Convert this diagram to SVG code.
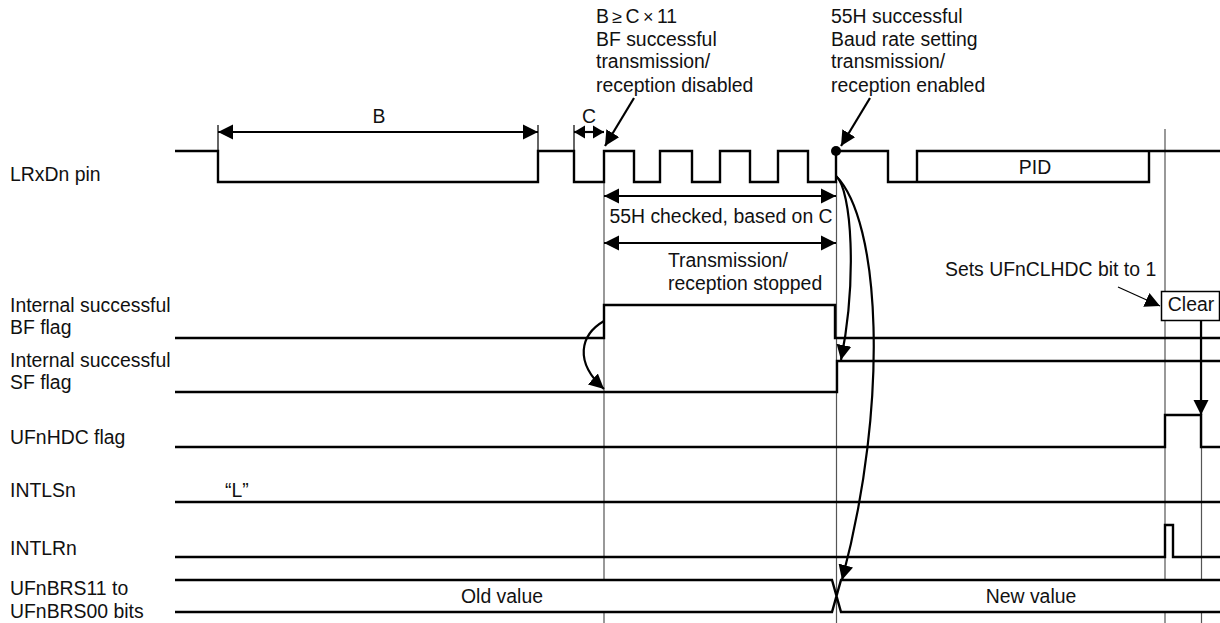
<svg xmlns="http://www.w3.org/2000/svg" width="1220" height="623" viewBox="0 0 1220 623">
<style>
text{font-family:"Liberation Sans",Arial,sans-serif;font-size:19.4px;fill:#111}
.m{text-anchor:middle}
.sym{font-size:18px}
.sig{fill:none;stroke:#000;stroke-width:2.4}
.guide{fill:none;stroke:#555;stroke-width:1.2}
.ar{fill:none;stroke:#000;stroke-width:2.2}
.thin{fill:none;stroke:#000;stroke-width:1.2}
</style>
<defs>
<marker id="a" markerUnits="userSpaceOnUse" markerWidth="16" markerHeight="16" refX="15" refY="8" orient="auto-start-reverse" viewBox="0 0 16 16"><path d="M0 0.5L15 8L0 15.5Z" fill="#000"/></marker>
<marker id="s" markerUnits="userSpaceOnUse" markerWidth="12" markerHeight="14" refX="11" refY="7" orient="auto-start-reverse" viewBox="0 0 12 14"><path d="M0 0.5L11 7L0 13.5Z" fill="#000"/></marker>
</defs>
<rect width="1220" height="623" fill="#fff"/>
<g id="guides">
<path class="guide" d="M604 182V580M604 612V623M836.500 182V623M1165 129V580M1165 612V623M1201.500 320V580M1201.500 612V623"/>
<path class="thin" d="M218 125V151M538 125V151M574 125V151"/>
</g>
<g id="signals">
<path class="sig" d="M175 151H218V182H538V151H574V182H604V151H634V182H660V151H692V182H720V151H750V182H778V151H808V182H836V151H888V182H917V151H1149V182H917M1149 151H1220"/>
<path class="sig" d="M175 338H604V305H835V338H1220"/>
<path class="sig" d="M175 392H837V361H1220"/>
<path class="sig" d="M175 447H1165V415H1201V447H1220"/>
<path class="sig" d="M175 502H1220"/>
<path class="sig" d="M175 557H1165V525H1173V557H1220"/>
<path class="sig" d="M175 580H832L841 612H1220M175 612H832L841 580H1220"/>
</g>
<g id="connectors">
<path class="ar" marker-start="url(#a)" marker-end="url(#a)" d="M218 132H538"/>
<path class="ar" marker-start="url(#s)" marker-end="url(#s)" d="M574 132H604"/>
<path class="ar" marker-end="url(#a)" d="M634 98L605 146"/>
<path class="ar" marker-end="url(#a)" d="M870 98L841 146"/>
<path class="ar" marker-start="url(#a)" marker-end="url(#a)" d="M604 196H836"/>
<path class="ar" marker-start="url(#a)" marker-end="url(#a)" d="M604 243H836"/>
<path class="ar" marker-end="url(#a)" d="M604 321C580 335 574 362 604 389"/>
<path class="ar" marker-end="url(#a)" d="M836 176C852 190 857 280 841 360"/>
<path class="ar" marker-end="url(#a)" d="M836 176C880 220 890 400 842 580"/>
<path class="ar" marker-end="url(#a)" d="M1201 320V415"/>
<path class="thin" marker-end="url(#a)" d="M1118 287L1160 306"/>
<circle cx="836" cy="151" r="5" fill="#000"/>
</g>
<g id="clear"><rect x="1161.500" y="291.500" width="58" height="29" fill="#fff" stroke="#000" stroke-width="1.500"/><text class="m" x="1191" y="311">Clear</text></g>
<g id="labels">
<text x="10" y="181">LRxDn pin</text>
<text x="10" y="312">Internal successful</text><text x="10" y="334">BF flag</text>
<text x="10" y="367">Internal successful</text><text x="10" y="389">SF flag</text>
<text x="10" y="444">UFnHDC flag</text>
<text x="10" y="497">INTLSn</text>
<text x="10" y="555">INTLRn</text>
<text x="10" y="595">UFnBRS11 to</text><text x="10" y="618">UFnBRS00 bits</text>
<text x="596" y="23" word-spacing="-2">B <tspan class="sym">≥</tspan> C <tspan class="sym">×</tspan> 11</text><text x="596" y="46">BF successful</text><text x="596" y="68">transmission/</text><text x="596" y="92">reception disabled</text>
<text x="831" y="23">55H successful</text><text x="831" y="46">Baud rate setting</text><text x="831" y="68">transmission/</text><text x="831" y="92">reception enabled</text>
<text class="m" x="379" y="123">B</text>
<text class="m" x="589" y="123">C</text>
<text class="m" x="1035" y="174">PID</text>
<text class="m" x="721" y="223">55H checked, based on C</text>
<text x="668" y="267">Transmission/</text><text x="668" y="290">reception stopped</text>
<text x="945" y="276">Sets UFnCLHDC bit to 1</text>
<text x="225" y="497">“L”</text>
<text class="m" x="502" y="603">Old value</text>
<text class="m" x="1031" y="603">New value</text>
</g>
</svg>
